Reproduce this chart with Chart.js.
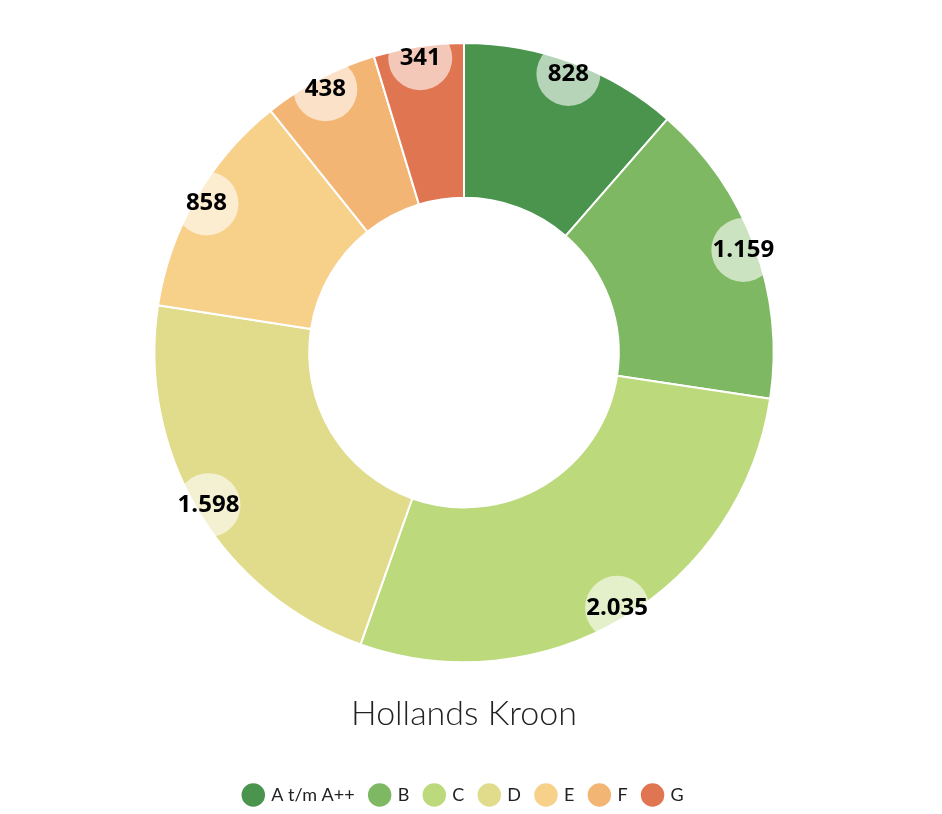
<!DOCTYPE html>
<html><head><meta charset="utf-8">
<script src="https://cdn.jsdelivr.net/npm/chart.js@4"></script>
<style>html,body{margin:0;padding:0;background:#fff}#w{width:942px;height:814px}</style>
</head><body><div id="w"><canvas id="c"></canvas></div>
<script>
const categories = ['A t/m A++','B','C','D','E','F','G'];
const values = [828,1159,2035,1598,858,438,341];
const displayLabels = ['828','1.159','2.035','1.598','858','438','341'];
const colors = ['#4a944d','#7eb862','#bcd97c','#e0dc8c','#f7d08a','#f3b573','#e07552'];
const title = 'Hollands Kroon';

const labelPlugin = {
  id:'lbl',
  afterDatasetsDraw(chart){
    const ctx = chart.ctx;
    chart.getDatasetMeta(0).data.forEach((arc,i)=>{
      const {x,y,startAngle,endAngle,outerRadius,innerRadius} = arc.getProps(['x','y','startAngle','endAngle','outerRadius','innerRadius'],true);
      const mid=(startAngle+endAngle)/2, r=outerRadius-12;
      const px=x+Math.cos(mid)*r, py=y+Math.sin(mid)*r;
      ctx.save();
      ctx.beginPath();
      ctx.arc(x,y,outerRadius,startAngle,endAngle);
      ctx.arc(x,y,innerRadius,endAngle,startAngle,true);
      ctx.closePath(); ctx.clip();
      ctx.beginPath(); ctx.arc(px,py,32,0,Math.PI*2);
      ctx.fillStyle='rgba(255,255,255,0.6)'; ctx.fill();
      ctx.restore();
      ctx.save();
      ctx.font='bold 24px "Open Sans", sans-serif';
      ctx.fillStyle='#000'; ctx.textAlign='center'; ctx.textBaseline='middle';
      ctx.fillText(displayLabels[i],px,py);
      ctx.restore();
    });
  }
};

new Chart(document.getElementById('c'),{
  type:'doughnut',
  data:{labels:categories,datasets:[{data:values,backgroundColor:colors,borderColor:'#fff',borderWidth:2}]},
  options:{
    responsive:true,maintainAspectRatio:false,animation:false,
    cutout:'50%',
    layout:{padding:{top:42,left:0,right:14}},
    plugins:{
      tooltip:{enabled:false},
      title:{display:true,text:title,position:'bottom',weight:1000,
        font:{family:'Lato',size:34,weight:'300'},color:'#222',padding:{top:30,bottom:36}},
      legend:{position:'bottom',weight:3000,
        labels:{usePointStyle:true,pointStyle:'circle',boxWidth:22,boxHeight:22,padding:16,color:'#222',
          font:{family:'Lato',size:18}}}
    }
  },
  plugins:[labelPlugin]
});
</script></body></html>
